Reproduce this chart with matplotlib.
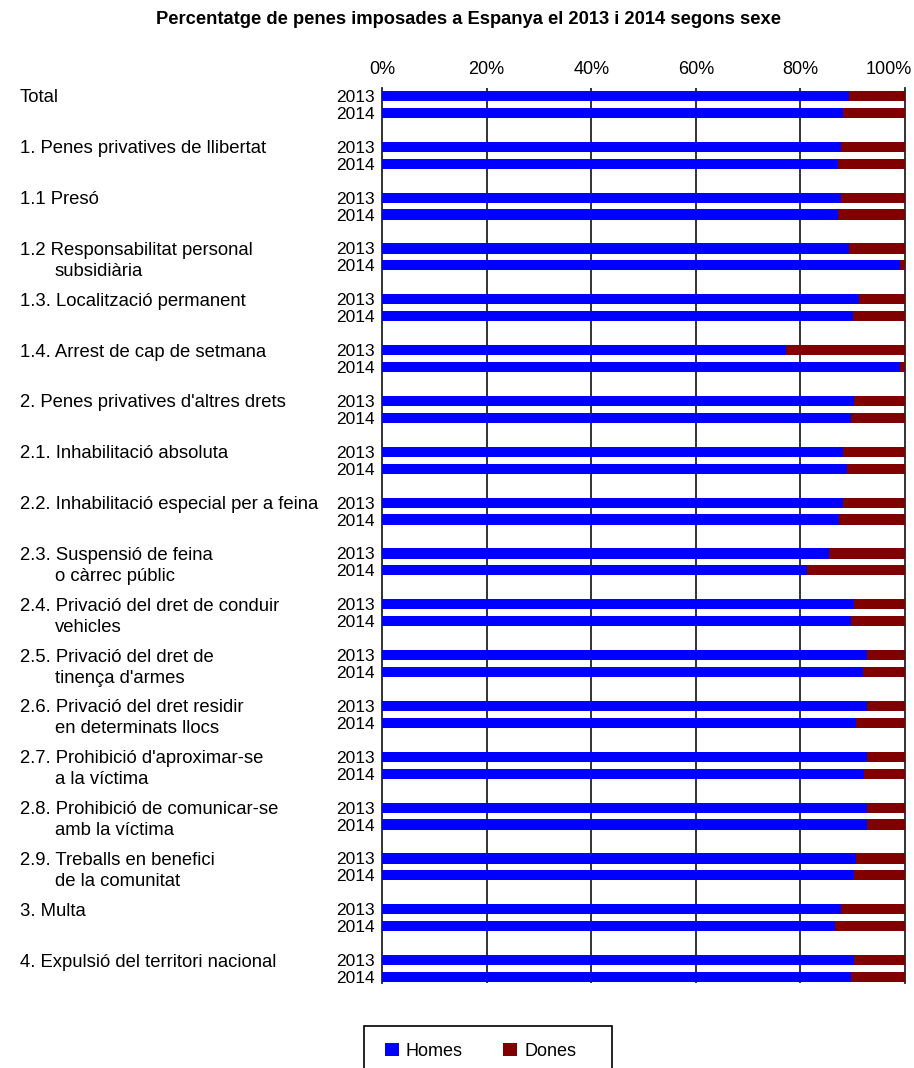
import matplotlib
matplotlib.use("Agg")
import matplotlib.pyplot as plt
from matplotlib.patches import Patch, Rectangle
from matplotlib.transforms import ScaledTranslation

plt.rcParams['font.family'] = ['Liberation Sans', 'DejaVu Sans']

# categories (two-line labels use \n)
categories = [
    "Total",
    "1. Penes privatives de llibertat",
    "1.1 Presó",
    "1.2 Responsabilitat personal\nsubsidiària",
    "1.3. Localització permanent",
    "1.4. Arrest de cap de setmana",
    "2. Penes privatives d'altres drets",
    "2.1. Inhabilitació absoluta",
    "2.2. Inhabilitació especial per a feina",
    "2.3. Suspensió de feina\no càrrec públic",
    "2.4. Privació del dret de conduir\nvehicles",
    "2.5. Privació del dret de\ntinença d'armes",
    "2.6. Privació del dret residir\nen determinats llocs",
    "2.7. Prohibició d'aproximar-se\na la víctima",
    "2.8. Prohibició de comunicar-se\namb la víctima",
    "2.9. Treballs en benefici\nde la comunitat",
    "3. Multa",
    "4. Expulsió del territori nacional",
]
years = ["2013", "2014"]

# % homes per category
homes_2013 = [89.3, 87.7, 87.7, 89.3, 91.3, 77.2, 90.2, 88.2, 88.2, 85.5,
              90.2, 92.7, 92.7, 92.7, 92.7, 90.6, 87.7, 90.2]
homes_2014 = [88.2, 87.1, 87.1, 99.1, 90.0, 99.1, 89.6, 88.9, 87.3, 81.2,
              89.6, 91.9, 90.7, 92.2, 92.7, 90.2, 86.7, 89.6]
dones_2013 = [100 - v for v in homes_2013]
dones_2014 = [100 - v for v in homes_2014]

xticks = [0, 20, 40, 60, 80, 100]
xtick_labels = ["0%", "20%", "40%", "60%", "80%", "100%"]

blue = "#0000ff"
red = "#800000"

fig = plt.figure(figsize=(9.14, 10.68), dpi=100)
W, H = 914, 1068
ax = fig.add_axes([382 / W, 1 - 983 / H, (905 - 382) / W, (983 - 88) / H])

n = len(categories)
y13 = [3 * i for i in range(n)]
y14 = [3 * i + 1 for i in range(n)]
bh = 0.6

ax.barh(y13, homes_2013, height=bh, color=blue, zorder=3)
ax.barh(y13, dones_2013, left=homes_2013, height=bh, color=red, zorder=3)
ax.barh(y14, homes_2014, height=bh, color=blue, zorder=3)
ax.barh(y14, dones_2014, left=homes_2014, height=bh, color=red, zorder=3)

ax.set_xlim(0, 100)
ax.set_ylim(3 * (n - 1) + 1.35, -0.47)

# vertical gridlines
for xv in xticks[1:-1]:
    ax.axvline(xv, color="#222222", lw=1.3, zorder=1)

ax.xaxis.tick_top()
ax.set_xticks(xticks)
ax.set_xticklabels(xtick_labels, fontsize=13)
ax.tick_params(axis="x", length=0, pad=7)
# last label pulled in so it stays inside the picture
last = ax.get_xticklabels()[-1]
last.set_horizontalalignment("right")
last.set_transform(last.get_transform() + ScaledTranslation(7 / 100, 0, fig.dpi_scale_trans))

yt = []
ytl = []
for a, b in zip(y13, y14):
    yt += [a, b]
    ytl += years
ax.set_yticks(yt)
ax.set_yticklabels(ytl, fontsize=12.5)
ax.tick_params(axis="y", length=0, pad=5)

for s in ["top", "bottom"]:
    ax.spines[s].set_visible(False)
for s in ["left", "right"]:
    ax.spines[s].set_color("#222222")
    ax.spines[s].set_linewidth(1.3)

# category labels on the left
tr = ax.get_yaxis_transform()
x1 = (20 - 382) / 523
x2 = (55 - 382) / 523
for i, lab in enumerate(categories):
    parts = lab.split("\n")
    ax.text(x1, y13[i] + 0.12, parts[0], transform=tr, fontsize=13.3,
            ha="left", va="center", clip_on=False)
    if len(parts) > 1:
        ax.text(x2, y13[i] + 1.35, parts[1], transform=tr, fontsize=13.3,
                ha="left", va="center", clip_on=False)

fig.text(469 / W, 1 - 20 / H,
         "Percentatge de penes imposades a Espanya el 2013 i 2014 segons sexe",
         ha="center", va="center", fontsize=13.2, fontweight="bold")

# legend box runs off the bottom edge
fig.patches.append(Rectangle((364 / W, -0.05), (612 - 364) / W, 0.05 + 1 - 1026 / H,
                             transform=fig.transFigure, fill=False,
                             edgecolor="black", lw=1.2))
handles = [Patch(facecolor=blue, label="Homes"), Patch(facecolor=red, label="Dones")]
leg = fig.legend(handles=handles, loc="center left", bbox_to_anchor=(385 / W, 1 - 1051 / H),
                 ncol=2, fontsize=13, frameon=False, borderpad=0, borderaxespad=0,
                 handlelength=0.75, handleheight=0.75, handletextpad=0.4,
                 columnspacing=2.25)

fig.savefig("out.png", dpi=100)
